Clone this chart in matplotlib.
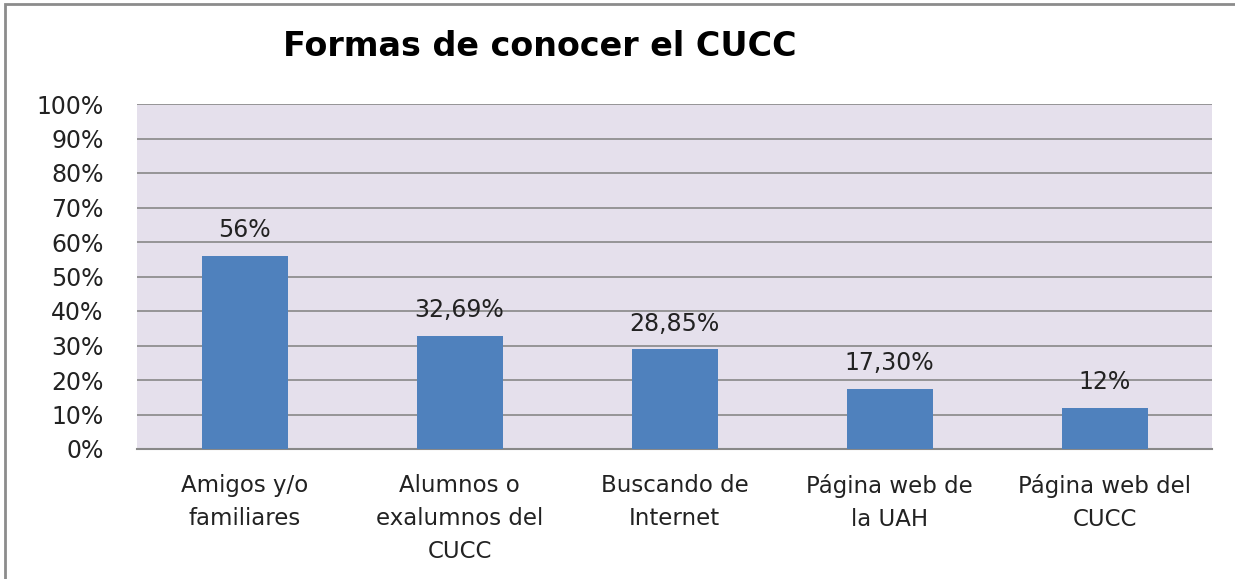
import numpy as np
import matplotlib.pyplot as plt
from matplotlib.patches import Rectangle

categories = ['Amigos y/o\nfamiliares', 'Alumnos o\nexalumnos del\nCUCC', 'Buscando de\nInternet',
              'Página web de\nla UAH', 'Página web del\nCUCC']
values = [56, 32.69, 28.85, 17.30, 12]
value_labels = ['56%', '32,69%', '28,85%', '17,30%', '12%']
yticks = np.arange(0, 101, 10)

plt.rcParams['font.family'] = ['DejaVu Sans']

fig = plt.figure(figsize=(12.35, 5.79), dpi=100)
fig.patches.append(Rectangle((5 / 1235, -0.1), 1.2, (579 - 4) / 579 + 0.1,
                             transform=fig.transFigure, fill=False,
                             edgecolor='#8c8c8c', lw=2))
ax = fig.add_axes([137 / 1235, 130 / 579, 1075 / 1235, 345 / 579])
ax.set_facecolor('#E5E0EC')

x = np.arange(len(categories))
ax.bar(x, values, width=0.4, color='#4F81BD', zorder=3)
for xi, v, lab in zip(x, values, value_labels):
    ax.annotate(lab, (xi, v), xytext=(0, 10), textcoords='offset points',
                ha='center', va='bottom', fontsize=17, color='#222222')

ax.set_xlim(-0.5, len(categories) - 0.5)
ax.set_ylim(0, 100)
ax.set_yticks(yticks)
ax.set_yticklabels(['%d%%' % t for t in yticks], fontsize=17, color='#222222')
ax.set_xticks(x)
ax.set_xticklabels(categories, fontsize=16.5, color='#222222', linespacing=1.55)
ax.tick_params(axis='y', length=0, pad=24)
ax.tick_params(axis='x', length=0, pad=18)
ax.yaxis.grid(True, color='#888888', lw=1.2, zorder=1)
for s in ['top', 'right', 'left']:
    ax.spines[s].set_visible(False)
ax.spines['bottom'].set_color('#888888')
ax.spines['bottom'].set_linewidth(1.5)

fig.text(540 / 1235, 1 - 46 / 579, 'Formas de conocer el CUCC', ha='center', va='center',
         fontsize=24, fontweight='bold', color='black')

fig.savefig('out.png', dpi=100)
